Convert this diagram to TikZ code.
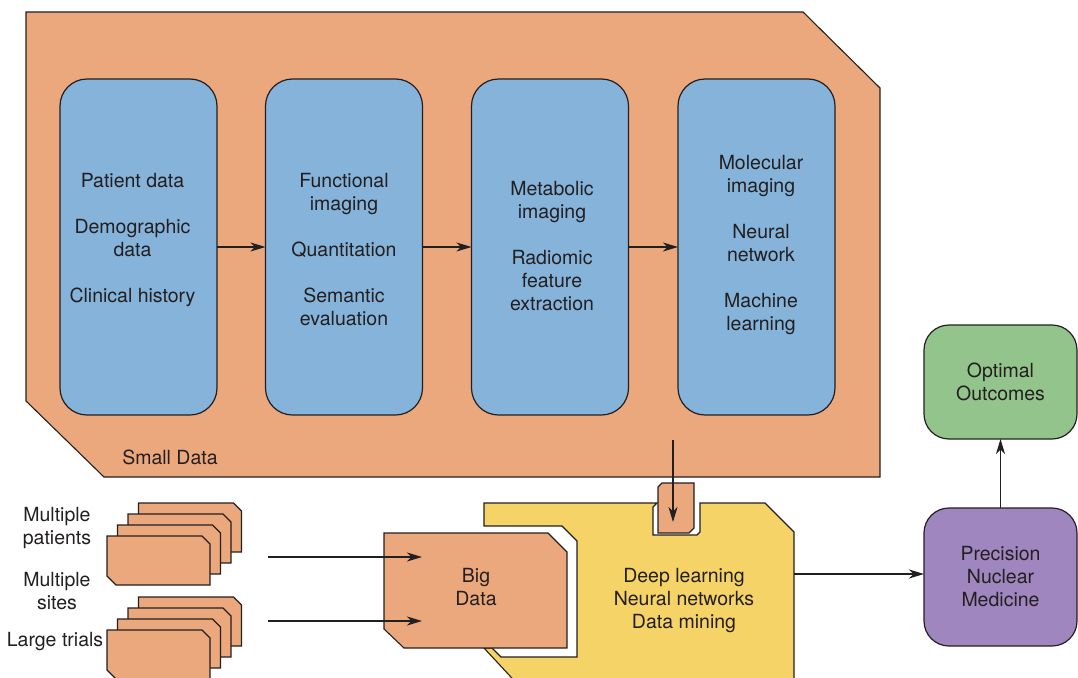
\documentclass[tikz,border=0pt]{standalone}
\usepackage{fontspec}
\setmainfont{TeX Gyre Heros}
\usetikzlibrary{arrows.meta}
\definecolor{orangeC}{RGB}{235,168,125}
\definecolor{blueC}{RGB}{133,179,218}
\definecolor{yellowC}{RGB}{246,211,102}
\definecolor{greenC}{RGB}{147,196,140}
\definecolor{purpleC}{RGB}{160,134,190}
\definecolor{textC}{RGB}{35,31,32}
\definecolor{lineC}{RGB}{35,31,32}
\begin{document}
\begin{tikzpicture}[x=1pt,y=-1pt,
  txt/.style={font=\fontsize{19.5}{23}\selectfont, text=textC, align=center, inner sep=0pt},
  bluebox/.style={draw=lineC, line width=1.2pt, fill=blueC, rounded corners=27pt, minimum width=157pt, minimum height=336pt, inner sep=0pt, outer sep=0pt},
  endbox/.style={draw=lineC, line width=1.2pt, rounded corners=25pt, minimum width=153pt, inner sep=0pt, outer sep=0pt, font=\fontsize{19.5}{23}\selectfont, text=textC, align=center},
  conn/.style={draw=lineC, line width=1.2pt, -{Stealth[length=15pt,width=9pt,inset=4.5pt]}},
  shapeline/.style={draw=lineC, line width=1.1pt, line join=miter},
  card/.style={draw=lineC, line width=1.1pt, fill=orangeC, line join=miter},
]
\useasboundingbox (0,0) rectangle (1078,677);
\begin{scope}
\clip (0,0) rectangle (1078,677);

% Small data region
\filldraw[shapeline, fill=orangeC] (26,12) -- (803,12) -- (880,88) -- (880,477) -- (104,477) -- (26,401) -- cycle;
\node[txt] (small) at (170,457) {Small Data};

% blue boxes
\node[bluebox] (b1) at (138.5,247) {};
\node[bluebox] (b2) at (344,247) {};
\node[bluebox] (b3) at (550,247) {};
\node[bluebox] (b4) at (756.5,247) {};
\node[txt] (t1) at (132.5,240) {Patient data\\[23pt]Demographic\\data\\[23pt]Clinical history};
\node[txt] (t2) at (344,249.5) {Functional\\imaging\\[23pt]Quantitation\\[23pt]Semantic\\evaluation};
\node[txt] (t3) at (552,246) {Metabolic\\imaging\\[23pt]Radiomic\\feature\\extraction};
\node[txt] (t4) at (761,245.5) {Molecular\\imaging\\[23pt]Neural\\network\\[23pt]Machine\\learning};
\draw[conn] (b1.east) -- (b2.west);
\draw[conn] (b2.east) -- (b3.west);
\draw[conn] (b3.east) -- (b4.west);

% yellow deep-learning region with notches
\filldraw[shapeline, fill=yellowC] (484,503) -- (657,503) -- (653,507) -- (653,535) -- (697,535) -- (700,532) -- (700,503) -- (765,503) -- (794,532) -- (794,690) -- (523,690) -- (484,648) -- (492,648) -- (501,657) -- (577,657) -- (577,541) -- (562,526) -- (484,526) -- cycle;
\node[txt] (dl) at (684,600.5) {Deep learning\\Neural networks\\Data mining};

% Big data card
\filldraw[card] (384,533) -- (548,533) -- (567,552) -- (567,648) -- (404,648) -- (384,629) -- cycle;
\node[txt] (bd) at (476,587) {Big\\Data};

% small card entering the deep-learning region
\filldraw[card] (658,487) -- (662,483) -- (694,483) -- (694,528) -- (689,533) -- (658,533) -- cycle;
\coordinate (sdout) at (673,440);
\coordinate (sdin) at (673,522);
\draw[conn] (sdout) -- (sdin);

% stacks of cards
\foreach \yy in {0,94}{
  \foreach \xx/\ty in {138.5/503,128/514,117.5/525,107/536}{
    \filldraw[card] (\xx,\ty+\yy) -- ++(95,0) -- ++(8,8) -- ++(0,41) -- ++(-94,0) -- ++(-9,-9) -- cycle;
  }
}
\node[txt] (mp) at (57,528.5) {Multiple\\patients};
\node[txt] (ms) at (57,591) {Multiple\\sites};
\node[txt] (lt) at (55,642) {Large trials};

\coordinate (s1) at (268,557);
\coordinate (e1) at (422,557);
\coordinate (s2) at (268,621);
\coordinate (e2) at (422,621);
\draw[conn] (s1) -- (e1);
\draw[conn] (s2) -- (e2);

% outcome boxes
\node[endbox, fill=purpleC, minimum height=138pt] (prec) at (1000.5,577) {Precision\\Nuclear\\Medicine};
\node[endbox, fill=greenC, minimum height=114pt] (opt) at (1000.5,382) {Optimal\\Outcomes};
\coordinate (yr) at (794,574);
\draw[conn] (yr) -- (prec.west |- yr);
\draw[conn] (prec.north) -- (opt.south);
\end{scope}
\end{tikzpicture}
\end{document}
